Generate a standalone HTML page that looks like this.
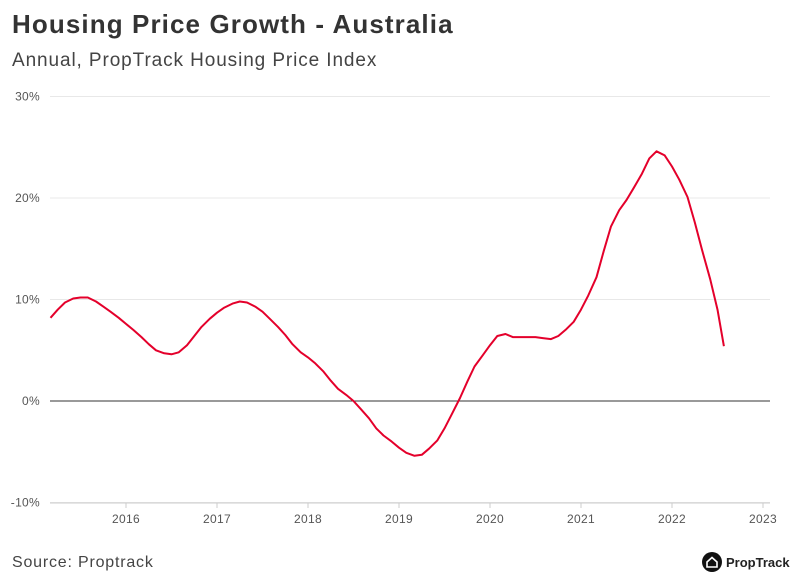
<!DOCTYPE html>
<html><head><meta charset="utf-8"><style>
body{margin:0;width:796px;height:580px;background:#fff;font-family:"Liberation Sans",sans-serif;overflow:hidden;position:relative}
#title{position:absolute;left:12px;top:9px;font-size:26px;font-weight:bold;color:#333;letter-spacing:1.1px}
#sub{position:absolute;left:12px;top:50px;font-size:19px;color:#444;letter-spacing:0.9px}
#src{position:absolute;left:12px;top:554px;font-size:16px;color:#444;letter-spacing:0.8px}
#logo{position:absolute;left:702px;top:552px;display:flex;align-items:center;font-size:13px;font-weight:bold;color:#222}
</style></head><body>
<div id="title">Housing Price Growth - Australia</div>
<div id="sub">Annual, PropTrack Housing Price Index</div>
<svg id="chart" width="796" height="580" style="position:absolute;left:0;top:0"></svg>
<div id="src">Source: Proptrack</div>
<div id="logo"><svg width="20" height="20" style="margin-right:4px"><circle cx="10" cy="10" r="10" fill="#111"/><path d="M5 10 L10 5.5 L15 10 V15 H5 Z" fill="none" stroke="#fff" stroke-width="1.6"/></svg>PropTrack</div>
<script>
const yTicks=[-10,0,10,20,30];
const xTicks=[2016,2017,2018,2019,2020,2021,2022,2023];
const dates=[2015.17,2015.25,2015.33,2015.42,2015.5,2015.58,2015.67,2015.75,2015.83,2015.92,2016.0,2016.08,2016.17,2016.25,2016.33,2016.42,2016.5,2016.58,2016.67,2016.75,2016.83,2016.92,2017.0,2017.08,2017.17,2017.25,2017.33,2017.42,2017.5,2017.58,2017.67,2017.75,2017.83,2017.92,2018.0,2018.08,2018.17,2018.25,2018.33,2018.42,2018.5,2018.58,2018.67,2018.75,2018.83,2018.92,2019.0,2019.08,2019.17,2019.25,2019.33,2019.42,2019.5,2019.58,2019.67,2019.75,2019.83,2019.92,2020.0,2020.08,2020.17,2020.25,2020.33,2020.42,2020.5,2020.58,2020.67,2020.75,2020.83,2020.92,2021.0,2021.08,2021.17,2021.25,2021.33,2021.42,2021.5,2021.58,2021.67,2021.75,2021.83,2021.92,2022.0,2022.08,2022.17,2022.25,2022.33,2022.42,2022.5,2022.57];
const growth=[8.2,9.0,9.7,10.1,10.2,10.2,9.8,9.3,8.8,8.2,7.6,7.0,6.3,5.6,5.0,4.7,4.6,4.8,5.5,6.4,7.3,8.1,8.7,9.2,9.6,9.8,9.7,9.3,8.8,8.1,7.3,6.5,5.6,4.8,4.3,3.7,2.9,2.0,1.2,0.6,0.0,-0.8,-1.7,-2.7,-3.4,-4.0,-4.6,-5.1,-5.4,-5.3,-4.7,-3.9,-2.7,-1.3,0.3,1.9,3.4,4.5,5.5,6.4,6.6,6.3,6.3,6.3,6.3,6.2,6.1,6.4,7.0,7.8,9.0,10.4,12.2,14.8,17.2,18.8,19.8,21.0,22.4,23.9,24.6,24.2,23.1,21.8,20.1,17.6,14.9,12.0,9.0,5.4];
const svg=document.getElementById('chart');const NS='http://www.w3.org/2000/svg';
const x=v=>126+(v-2016)*91;
const y=v=>401-v*10.15;
function mk(t,a){const e=document.createElementNS(NS,t);for(const k in a)e.setAttribute(k,a[k]);svg.appendChild(e);return e;}
yTicks.forEach(t=>{
 const l=mk('line',{x1:50,x2:770,y1:y(t),y2:y(t),stroke:t===0?'#333':'#e8e8e8','stroke-width':1});
 
 
 const tx=mk('text',{x:40,y:y(t)+4,'text-anchor':'end','font-size':12,fill:'#555','font-family':'Liberation Sans, sans-serif','letter-spacing':'0.3'});
 tx.textContent=t+'%';
 
 
});
const ax=mk('line',{x1:50,x2:770,y1:503,y2:503,stroke:'#ccc'});


xTicks.forEach(t=>{
 const tk=mk('line',{x1:x(t),x2:x(t),y1:503,y2:508,stroke:'#ccc'});
 
 
 const tx=mk('text',{x:x(t),y:523,'text-anchor':'middle','font-size':12,fill:'#555','font-family':'Liberation Sans, sans-serif','letter-spacing':'0.3'});
 tx.textContent=t;
 
 
});
const p=mk('path',{d:dates.map((d,i)=>(i?'L':'M')+x(d).toFixed(1)+' '+y(growth[i]).toFixed(1)).join(' '),fill:'none',stroke:'#e4002b','stroke-width':2,'stroke-linejoin':'round'});


</script>
</body></html>
